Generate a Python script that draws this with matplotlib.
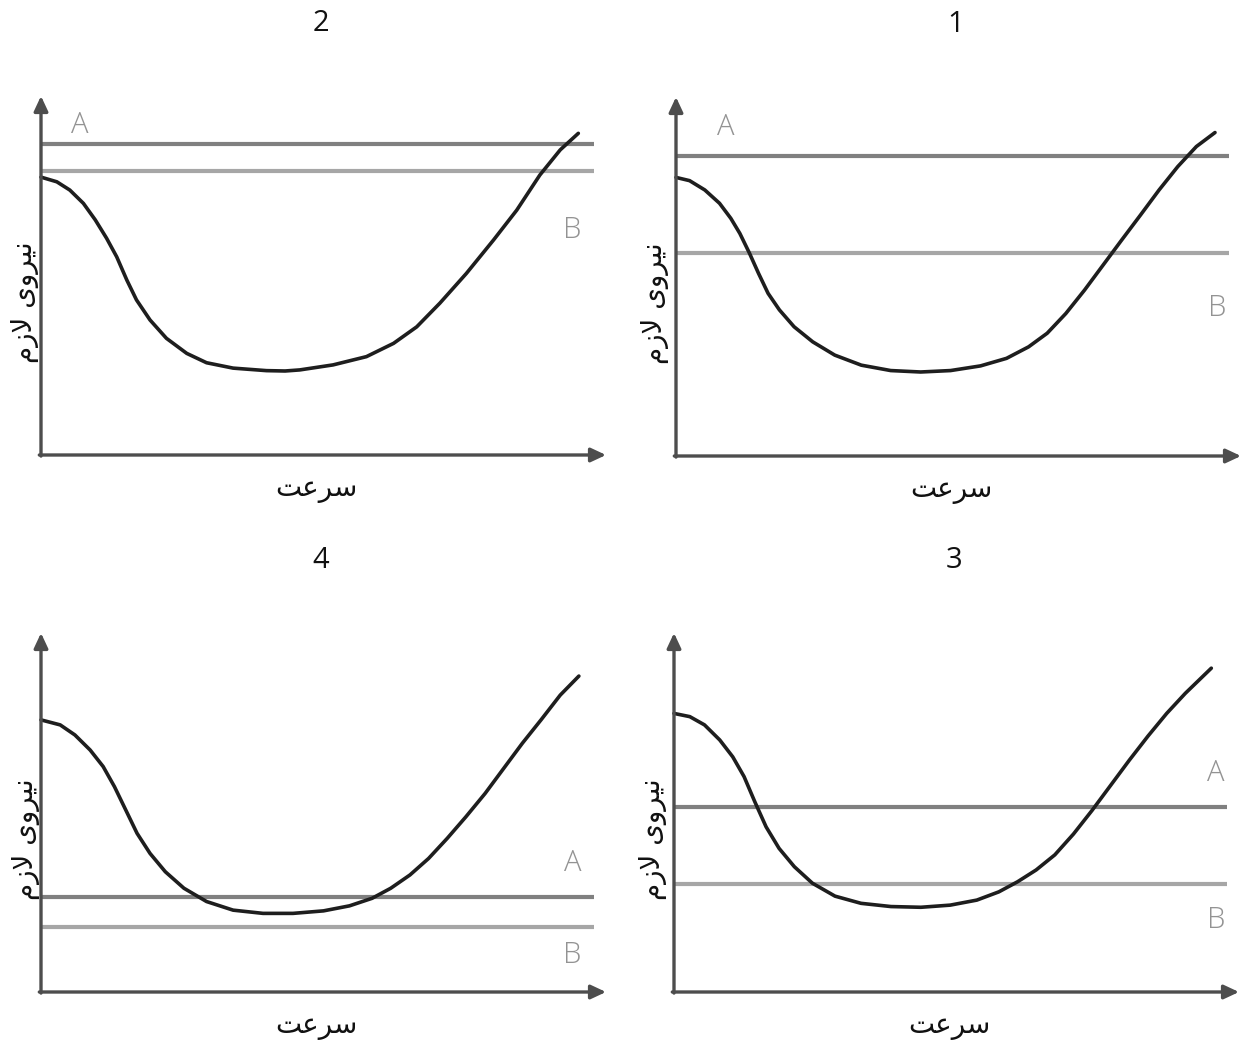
import matplotlib
matplotlib.use("Agg")
import matplotlib.pyplot as plt

# speed (x) and required force (y), 0-100 axis units
# panel 1 (top right)
p1_speed = [0, 2.4, 5.1, 7.7, 9.7, 11.3, 13.0, 14.6, 16.3, 18.3, 20.9, 24.2,
            28.1, 32.8, 38.0, 43.3, 48.6, 53.9, 58.5, 62.4, 65.7, 69.0, 72.3,
            75.6, 78.9, 82.2, 85.5, 88.8, 92.1, 95.4]
p1_force = [77.6, 76.7, 74.1, 70.4, 66.2, 62.0, 56.5, 50.9, 45.3, 40.7, 36.0,
            31.8, 28.1, 25.3, 23.8, 23.4, 23.8, 25.1, 27.2, 30.4, 34.2, 39.7,
            46.2, 53.2, 60.2, 67.1, 74.1, 80.6, 86.2, 90.1]
p1_a, p1_b = 83.6, 56.5

# panel 2 (top left)
p2_speed = [0, 2.8, 5.1, 7.5, 9.6, 11.6, 13.4, 15.2, 16.9, 19.3, 22.2, 25.8,
            29.3, 34.0, 39.9, 43.2, 45.8, 51.7, 57.6, 62.4, 66.5, 70.6, 75.3,
            80.1, 84.2, 88.3, 91.9, 95.1]
p2_force = [77.4, 76.1, 73.8, 70.1, 65.5, 60.4, 55.2, 48.7, 43.2, 37.6, 32.5,
            28.3, 25.7, 24.2, 23.5, 23.4, 23.7, 25.1, 27.4, 31.1, 35.7, 42.3,
            50.6, 59.9, 68.2, 78.0, 85.0, 89.6]
p2_a, p2_b = 86.6, 79.1

# panel 3 (bottom right)
p3_speed = [0, 2.8, 5.4, 8.1, 10.4, 12.4, 14.3, 16.3, 18.6, 21.3, 24.5, 28.5,
            33.1, 38.4, 43.7, 48.9, 53.6, 57.5, 60.8, 64.1, 67.4, 70.7, 74.0,
            77.3, 80.6, 83.9, 87.2, 90.5, 95.1]
p3_force = [77.6, 76.7, 74.4, 70.2, 65.5, 60.0, 53.0, 46.0, 40.0, 34.9, 30.3,
            26.7, 24.7, 23.8, 23.6, 24.2, 25.6, 27.9, 30.7, 34.0, 38.2, 44.0,
            50.6, 57.6, 64.6, 71.3, 77.6, 83.2, 90.2]
p3_a, p3_b = 51.5, 30.1

# panel 4 (bottom left)
p4_speed = [0, 3.4, 6.0, 8.7, 11.0, 13.0, 15.0, 17.0, 19.3, 22.0, 25.3, 29.3,
            34.0, 39.3, 44.6, 50.0, 54.6, 58.6, 61.9, 65.3, 68.6, 71.9, 75.2,
            78.6, 81.9, 85.2, 88.5, 91.9, 95.2]
p4_force = [75.8, 74.4, 71.6, 67.4, 62.8, 57.2, 50.7, 44.2, 38.6, 33.5, 28.9,
            25.2, 22.8, 21.9, 21.9, 22.6, 24.0, 26.1, 28.9, 32.6, 37.2, 42.8,
            48.8, 55.3, 62.3, 69.3, 75.8, 82.7, 88.0]
p4_a, p4_b = 26.5, 18.1

panel_titles = ["1", "2", "3", "4"]

# Persian labels written in shaped presentation forms, visual order
x_label = "\uFE96\uFECB\uFEAE\uFEB3"                               # سرعت
y_label = "\uFEE1\uFEAF\uFEFB \uFBFC\uFEED\uFEAE\uFBFF\uFEE7"       # نیروی لازم

W, H = 1244, 1041
PW, PH = 565, 359


def draw_panel( fig, x0, y0, title, speed, force, a_val, b_val,
                a_pos, b_pos, ylab_x ):
    """
    x0, y0: pixel position of the axes origin in the figure
    """
    ax = fig.add_axes([x0 / W, (H - y0) / H, PW / W, PH / H])
    ax.set_xlim(0, 100)
    ax.set_ylim(0, 100)
    ax.axis("off")

    arrow = dict(arrowstyle="-|>,head_length=0.9,head_width=0.42",
                 color="#4d4d4d", lw=2.4, shrinkA=0, shrinkB=0)
    ax.annotate("", xy=(0, 100), xytext=(0, -0.3), arrowprops=arrow,
                annotation_clip=False)
    ax.annotate("", xy=(100, 0), xytext=(-0.3, 0), arrowprops=arrow,
                annotation_clip=False)

    ax.plot([0, 97.8], [a_val, a_val], color="#808080", lw=3.0,
            solid_capstyle="butt", clip_on=False)
    ax.plot([0, 97.8], [b_val, b_val], color="#a6a6a6", lw=3.0,
            solid_capstyle="butt", clip_on=False)
    ax.plot(speed, force, color="#1e1e1e", lw=2.6, solid_capstyle="round",
            solid_joinstyle="round", clip_on=False)

    ax.text(a_pos[0], a_pos[1], "A", color="#939393", fontsize=21,
            family=["Open Sans", "DejaVu Sans"], fontweight="light",
            ha="center", va="center")
    ax.text(b_pos[0], b_pos[1], "B", color="#939393", fontsize=21,
            family=["Open Sans", "DejaVu Sans"], fontweight="light",
            ha="center", va="center")

    ax.text(49.5, 120.3, title, fontsize=21, family=["Open Sans", "DejaVu Sans"],
            ha="center", va="center", color="#111111")
    ax.text(48.7, -9.5, x_label, fontsize=20, family=["DejaVu Sans"],
            ha="center", va="center", color="#111111")
    ax.text(ylab_x, 42.5, y_label, fontsize=20, family=["DejaVu Sans"],
            rotation=90, ha="center", va="center", color="#111111")
    return ax


fig = plt.figure(figsize=(W / 100, H / 100), dpi=100)
fig.patch.set_facecolor("white")

draw_panel(fig, 676, 456, panel_titles[0], p1_speed, p1_force, p1_a, p1_b,
           (8.8, 91.6), (95.8, 41.2), -3.8)
draw_panel(fig, 41, 455, panel_titles[1], p2_speed, p2_force, p2_a, p2_b,
           (6.9, 91.9), (94.0, 62.7), -2.9)
draw_panel(fig, 674, 992, panel_titles[2], p3_speed, p3_force, p3_a, p3_b,
           (95.9, 61.0), (95.9, 20.1), -3.8)
draw_panel(fig, 41, 992, panel_titles[3], p4_speed, p4_force, p4_a, p4_b,
           (94.2, 35.9), (94.0, 10.3), -2.7)

fig.savefig("out.png", dpi=100, facecolor="white")
